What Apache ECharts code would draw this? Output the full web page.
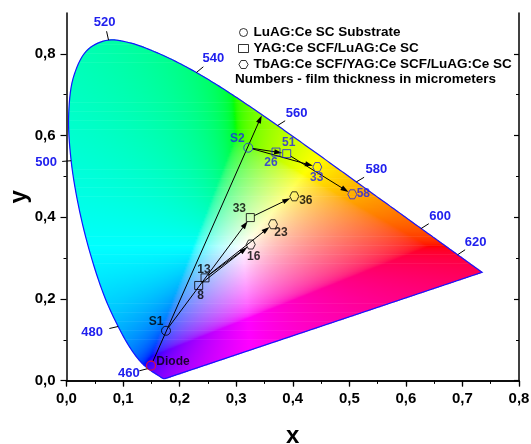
<!DOCTYPE html>
<html><head><meta charset="utf-8">
<script src="https://cdn.jsdelivr.net/npm/echarts@6/dist/echarts.min.js"></script>
<style>html,body{margin:0;padding:0;background:#fff}#chart{width:531px;height:444px}</style>
</head><body><div id="chart"></div>
<script>
// ---- CIE 1931 2° spectral locus (wavelength nm, x, y) ----
const locusNm = [380,385,390,395,400,405,410,415,420,425,430,435,440,445,450,455,460,465,470,475,480,485,490,495,500,505,510,515,520,525,530,535,540,545,550,555,560,565,570,575,580,585,590,595,600,605,610,615,620,625,630,635,640,645,650,655,660,665,670,680,690,700];
const locusX = [0.1741,0.1740,0.1738,0.1736,0.1733,0.1730,0.1726,0.1721,0.1714,0.1703,0.1689,0.1669,0.1644,0.1611,0.1566,0.1510,0.1440,0.1355,0.1241,0.1096,0.0913,0.0687,0.0454,0.0235,0.0082,0.0039,0.0139,0.0389,0.0743,0.1142,0.1547,0.1929,0.2296,0.2658,0.3016,0.3373,0.3731,0.4087,0.4441,0.4788,0.5125,0.5448,0.5752,0.6029,0.6270,0.6482,0.6658,0.6801,0.6915,0.7006,0.7079,0.7140,0.7190,0.7230,0.7260,0.7283,0.7300,0.7311,0.7320,0.7334,0.7344,0.7347];
const locusY = [0.0050,0.0050,0.0049,0.0049,0.0048,0.0048,0.0048,0.0048,0.0051,0.0058,0.0069,0.0086,0.0109,0.0138,0.0177,0.0227,0.0297,0.0399,0.0578,0.0868,0.1327,0.2007,0.2950,0.4127,0.5384,0.6548,0.7502,0.8120,0.8338,0.8262,0.8059,0.7816,0.7543,0.7243,0.6923,0.6589,0.6245,0.5896,0.5547,0.5202,0.4866,0.4544,0.4242,0.3965,0.3725,0.3514,0.3340,0.3197,0.3083,0.2993,0.2920,0.2859,0.2809,0.2770,0.2740,0.2717,0.2700,0.2689,0.2680,0.2666,0.2656,0.2653];
const wavelengthMarks = [460,480,500,520,540,560,580,600,620];

// ---- measured points ----
const substrateX = [0.1759, 0.3214];
const substrateY = [0.1222, 0.5703];
const substrateLabels = ['S1','S2'];

const yagX = [0.2337, 0.2449, 0.3250, 0.3704, 0.3893];
const yagY = [0.2331, 0.2517, 0.3993, 0.5596, 0.5557];
const yagLabels = ['8','13','33','26','51'];

const tbagX = [0.3257, 0.3651, 0.4028, 0.4434, 0.5053];
const tbagY = [0.3333, 0.3829, 0.4513, 0.5229, 0.4562];
const tbagLabels = ['16','23','36','33','58'];

const diodeX = [0.1494];
const diodeY = [0.0367];
const diodeLabels = ['Diode'];

// ---- arrows (from -> to) ----
const arrowFromX = [0.1494, 0.1759, 0.3250, 0.2337, 0.2449, 0.2449, 0.3214, 0.3214, 0.3893];
const arrowFromY = [0.0367, 0.1222, 0.3993, 0.2331, 0.2517, 0.2517, 0.5703, 0.5703, 0.5557];
const arrowToX   = [0.3451, 0.3250, 0.4028, 0.3257, 0.3257, 0.3651, 0.3893, 0.4434, 0.5053];
const arrowToY   = [0.6492, 0.3993, 0.4513, 0.3333, 0.3333, 0.3829, 0.5557, 0.5229, 0.4562];
const arrowHead  = [true, true, true, true, false, true, true, true, true];

// ---- axis ticks ----
const xTicks = [0,0.1,0.2,0.3,0.4,0.5,0.6,0.7,0.8];
const yTicks = [0,0.2,0.4,0.6,0.8];
const yMinor = [0.1,0.3,0.5,0.7];

// ================= layout / style (not data) =================
const FONT = 'Arial, "Liberation Sans", sans-serif';
const BLUE = '#2020ee';
const wlLabelOffset = {460:[-19,5],480:[-26,6],500:[-25,2],520:[-4,-18],540:[17,-14],560:[19,-12],580:[20,-12],600:[19,-12],620:[18,-12]};
const pointLabelOffset = {
  sub:[[-10,-9],[-11,-9]],
  yag:[[2,10.5],[-1,-8],[-11,-9],[-5,11],[2,-11]],
  tb:[[3,12],[8,8.5],[11.5,4],[-0.5,10.5],[11,-1]],
  diode:[[22,-4]]
};
const blueIdx = {sub:[1], yag:[3,4], tb:[3,4], diode:[]};

// colour of a chromaticity (x,y) for the gamut raster
function xyColor(x, y) {
  y = Math.max(y, 1e-4);
  const X = x / y, Y = 1, Z = (1 - x - y) / y;
  let r = 3.2406*X - 1.5372*Y - 0.4986*Z;
  let g = -0.9689*X + 1.8758*Y + 0.0415*Z;
  let b = 0.0557*X - 0.2040*Y + 1.0570*Z;
  const m = Math.min(r,g,b); if (m < 0) { r -= m; g -= m; b -= m; }
  const M = Math.max(r,g,b) || 1; r /= M; g /= M; b /= M;
  const gm = v => v <= 0.0031308 ? 12.92*v : 1.055*Math.pow(v, 1/2.4) - 0.055;
  return 'rgb(' + Math.round(255*gm(r)) + ',' + Math.round(255*gm(g)) + ',' + Math.round(255*gm(b)) + ')';
}

// smooth drawing path of the locus (centripetal Catmull-Rom through the table points)
function smoothPath(xs, ys, seg) {
  const P = xs.map((x, i) => [x, ys[i]]);
  const out = [];
  const n = P.length;
  for (let i = 0; i < n - 1; i++) {
    const p0 = P[Math.max(0, i-1)], p1 = P[i], p2 = P[i+1], p3 = P[Math.min(n-1, i+2)];
    const d = (a, b) => Math.pow(Math.hypot(b[0]-a[0], (b[1]-a[1])) || 1e-9, 0.5);
    const t0 = 0, t1 = t0 + d(p0,p1), t2 = t1 + d(p1,p2), t3 = t2 + d(p2,p3);
    for (let k = 0; k < seg; k++) {
      const t = t1 + (t2 - t1) * k / seg;
      const lerp = (a, b, ta, tb) => (ta === tb) ? a : [(tb - t)/(tb - ta)*a[0] + (t - ta)/(tb - ta)*b[0], (tb - t)/(tb - ta)*a[1] + (t - ta)/(tb - ta)*b[1]];
      const A1 = lerp(p0,p1,t0,t1), A2 = lerp(p1,p2,t1,t2), A3 = lerp(p2,p3,t2,t3);
      const B1 = lerp(A1,A2,t0,t2), B2 = lerp(A2,A3,t1,t3);
      out.push(lerp(B1,B2,t1,t2));
    }
  }
  out.push(P[n-1]);
  return out;
}
const outline = smoothPath(locusX, locusY, 8);
outline.push([locusX[0], locusY[0]]); // purple line closes it

// raster rows spanning the locus interior
const ROW = 0.002;
const rowY = [], rowSpan = [];
for (let y = 0.0049 + ROW/2; y < 0.8345; y += ROW) {
  let lo = Infinity, hi = -Infinity;
  for (let k = 0; k < outline.length - 1; k++) {
    const y1 = outline[k][1], y2 = outline[k+1][1];
    if (y >= Math.min(y1,y2) && y <= Math.max(y1,y2) && y1 !== y2) {
      const xi = outline[k][0] + (y - y1) * (outline[k+1][0] - outline[k][0]) / (y2 - y1);
      lo = Math.min(lo, xi); hi = Math.max(hi, xi);
    }
  }
  if (hi > lo) { rowY.push(y); rowSpan.push([lo, hi]); }
}

function isMarker(x, y) {
  const all = [[substrateX,substrateY],[yagX,yagY],[tbagX,tbagY],[diodeX,diodeY]];
  return all.some(([xs,ys]) => xs.some((v,i) => Math.abs(v-x)<1e-6 && Math.abs(ys[i]-y)<1e-6));
}

const HEX = 'path://M1 0.5 L0.75 0.067 L0.25 0.067 L0 0.5 L0.25 0.933 L0.75 0.933 Z';

function pointData(xs, ys, labels, key) {
  return xs.map((x, i) => {
    const blue = blueIdx[key].indexOf(i) >= 0;
    return {
      value: [x, ys[i]], name: labels[i],
      itemStyle: blue ? {borderColor: BLUE} : undefined,
      label: {offset: pointLabelOffset[key][i], color: blue ? BLUE : '#000'}
    };
  });
}
const pointLabel = {show: true, position: 'inside', formatter: p => p.name, fontFamily: FONT, fontWeight: 'bold', fontSize: 12};

const chart = echarts.init(document.getElementById('chart'), null, {renderer: 'canvas'});
const fmt = v => v.toFixed(1).replace('.', ',');
const axisLineStyle = {color: '#000', width: 1.5};

const option = {
  animation: false,
  backgroundColor: '#fff',
  grid: {left: 66.5, right: 12, top: 13, bottom: 63.3, containLabel: false, outerBoundsMode: 'none'},
  legend: {
    orient: 'vertical', left: 233, top: 20.5, itemWidth: 10, itemHeight: 8, itemGap: 2,
    itemStyle: {borderWidth: 1},
    textStyle: {fontFamily: FONT, fontWeight: 'bold', fontSize: 13.5, color: '#000', lineHeight: 13},
    data: [
      {name: 'LuAG:Ce SC Substrate', icon: 'circle'},
      {name: 'YAG:Ce SCF/LuAG:Ce SC', icon: 'rect'},
      {name: 'TbAG:Ce SCF/YAG:Ce SCF/LuAG:Ce SC', icon: HEX}
    ]
  },
  graphic: [{type: 'text', left: 235, top: 72, z: 20,
    style: {text: 'Numbers - film thickness in micrometers', font: 'bold 13.5px ' + FONT, fill: '#000'}}],
  xAxis: [
    {type: 'value', min: 0, max: 0.8, interval: 0.1, position: 'bottom', z: 10,
     axisLine: {lineStyle: axisLineStyle}, axisTick: {length: 6, customValues: xTicks, lineStyle: {width: 1.2, color: '#000'}},
     minorTick: {show: true, splitNumber: 2, length: 3, lineStyle: {color: '#000', width: 1}},
     axisLabel: {customValues: xTicks, formatter: fmt, fontFamily: FONT, fontWeight: 'bold', fontSize: 15, color: '#000', margin: 11},
     splitLine: {show: false},
     name: 'x', nameLocation: 'middle', nameGap: 44, nameMoveOverlap: false,
     nameTextStyle: {fontFamily: FONT, fontWeight: 'bold', fontSize: 24, color: '#000'}},
    {type: 'value', min: 0, max: 0.8, interval: 0.1, position: 'top', z: 10,
     axisLine: {lineStyle: axisLineStyle}, axisTick: {inside: true, length: 5, lineStyle: {width: 1.2, color: '#000'}},
     minorTick: {show: true, splitNumber: 2, length: 3, lineStyle: {color: '#000', width: 1}},
     axisLabel: {show: false}, splitLine: {show: false}}
  ],
  yAxis: [
    {type: 'value', min: 0, max: 0.9, position: 'left', z: 10,
     axisLine: {lineStyle: axisLineStyle},
     axisTick: {length: 6, customValues: yTicks, lineStyle: {width: 1.2, color: '#000'}},
     axisLabel: {customValues: yTicks, formatter: fmt, fontFamily: FONT, fontWeight: 'bold', fontSize: 15, color: '#000', margin: 11},
     splitLine: {show: false},
     name: 'y', nameLocation: 'middle', nameGap: 35, nameRotate: 90, nameMoveOverlap: false,
     nameTextStyle: {fontFamily: FONT, fontWeight: 'bold', fontSize: 24, color: '#000'}},
    {type: 'value', min: 0, max: 0.9, position: 'left', z: 10,
     axisLine: {show: false},
     axisTick: {length: 3, customValues: yMinor, lineStyle: {width: 1, color: '#000'}},
     axisLabel: {show: false}, splitLine: {show: false}},
    {type: 'value', min: 0, max: 0.9, position: 'right', z: 10,
     axisLine: {lineStyle: axisLineStyle},
     axisTick: {inside: true, length: 5, customValues: yTicks, lineStyle: {width: 1.2, color: '#000'}},
     axisLabel: {show: false}, splitLine: {show: false}},
    {type: 'value', min: 0, max: 0.9, position: 'right', z: 10,
     axisLine: {show: false},
     axisTick: {inside: true, length: 3, customValues: yMinor, lineStyle: {width: 1, color: '#000'}},
     axisLabel: {show: false}, splitLine: {show: false}}
  ],
  series: [
    { // chromaticity colour raster
      type: 'custom', name: 'gamut', z: 1, clip: true, silent: true, progressive: 0,
      data: rowY.map((y, i) => [rowSpan[i][0], y]),
      renderItem: function (params, api) {
        const i = params.dataIndex, y = rowY[i], xa = rowSpan[i][0], xb = rowSpan[i][1];
        const pA = api.coord([xa, y + ROW/2]), pB = api.coord([xb, y - ROW/2]);
        const n = Math.max(2, Math.ceil((xb - xa) / 0.004));
        const stops = [];
        for (let k = 0; k <= n; k++) { const t = k / n; stops.push({offset: t, color: xyColor(xa + (xb - xa) * t, y)}); }
        return {type: 'rect', shape: {x: pA[0], y: pA[1] - 0.35, width: pB[0] - pA[0], height: pB[1] - pA[1] + 0.7},
          style: {fill: new echarts.graphic.LinearGradient(0, 0, 1, 0, stops)}};
      }
    },
    { // locus outline incl. purple line
      type: 'custom', name: 'locus', z: 2, clip: true, silent: true,
      data: [[locusX[0], locusY[0]]],
      renderItem: function (params, api) {
        return {type: 'polyline', shape: {points: outline.map(p => api.coord(p))},
          style: {stroke: '#1515ff', lineWidth: 1.2, fill: null}};
      }
    },
    { // wavelength ticks and labels
      type: 'custom', name: 'wl', z: 3, clip: false, silent: true,
      data: wavelengthMarks.map(nm => { const k = locusNm.indexOf(nm); return [locusX[k], locusY[k], nm]; }),
      renderItem: function (params, api) {
        const p = api.coord([api.value(0), api.value(1)]);
        const nm = api.value(2), off = wlLabelOffset[nm];
        const L = Math.hypot(off[0], off[1]), d = [off[0]/L, off[1]/L];
        return {type: 'group', children: [
          {type: 'line', shape: {x1: p[0], y1: p[1], x2: p[0] + d[0]*9, y2: p[1] + d[1]*9}, style: {stroke: '#000', lineWidth: 1}},
          {type: 'text', x: p[0] + off[0], y: p[1] + off[1],
           style: {text: String(nm), fill: BLUE, font: 'bold 13px ' + FONT, align: 'center', verticalAlign: 'middle'}}
        ]};
      }
    },
    { // arrows
      type: 'custom', name: 'arrows', z: 4, clip: false, silent: true,
      data: arrowFromX.map((x, i) => [x, arrowFromY[i], arrowToX[i], arrowToY[i]]),
      renderItem: function (params, api) {
        const i = params.dataIndex;
        const a = api.coord([arrowFromX[i], arrowFromY[i]]), b = api.coord([arrowToX[i], arrowToY[i]]);
        let dx = b[0] - a[0], dy = b[1] - a[1]; const L = Math.hypot(dx, dy); dx /= L; dy /= L;
        const g0 = 4.5, g1 = isMarker(arrowToX[i], arrowToY[i]) ? 4.5 : 0;
        const s = [a[0] + dx*g0, a[1] + dy*g0], e = [b[0] - dx*g1, b[1] - dy*g1];
        const ch = [{type: 'line', shape: {x1: s[0], y1: s[1], x2: e[0] - dx*(arrowHead[i] ? 4 : 0), y2: e[1] - dy*(arrowHead[i] ? 4 : 0)},
          style: {stroke: '#000', lineWidth: 1}}];
        if (arrowHead[i]) {
          const bx = e[0] - dx*8, by = e[1] - dy*8;
          ch.push({type: 'polygon', shape: {points: [[e[0], e[1]], [bx - dy*2.6, by + dx*2.6], [bx + dy*2.6, by - dx*2.6]]},
            style: {fill: '#000'}});
        }
        return {type: 'group', children: ch};
      }
    },
    {type: 'scatter', name: 'LuAG:Ce SC Substrate', z: 5, symbol: 'circle', symbolSize: 9,
     itemStyle: {color: 'rgba(255,255,255,0)', borderColor: '#000', borderWidth: 1},
     label: pointLabel, data: pointData(substrateX, substrateY, substrateLabels, 'sub')},
    {type: 'scatter', name: 'YAG:Ce SCF/LuAG:Ce SC', z: 5, symbol: 'rect', symbolSize: 8,
     itemStyle: {color: 'rgba(255,255,255,0)', borderColor: '#000', borderWidth: 1},
     label: pointLabel, data: pointData(yagX, yagY, yagLabels, 'yag')},
    {type: 'scatter', name: 'TbAG:Ce SCF/YAG:Ce SCF/LuAG:Ce SC', z: 5, symbol: HEX, symbolSize: [9, 9],
     itemStyle: {color: 'rgba(255,255,255,0)', borderColor: '#000', borderWidth: 1},
     label: pointLabel, data: pointData(tbagX, tbagY, tbagLabels, 'tb')},
    {type: 'scatter', name: 'Diode', z: 5, symbol: 'circle', symbolSize: 9,
     itemStyle: {color: 'rgba(255,255,255,0)', borderColor: '#ff1010', borderWidth: 1.2},
     label: pointLabel, data: pointData(diodeX, diodeY, diodeLabels, 'diode')}
  ]
};
chart.setOption(option);
</script></body></html>
